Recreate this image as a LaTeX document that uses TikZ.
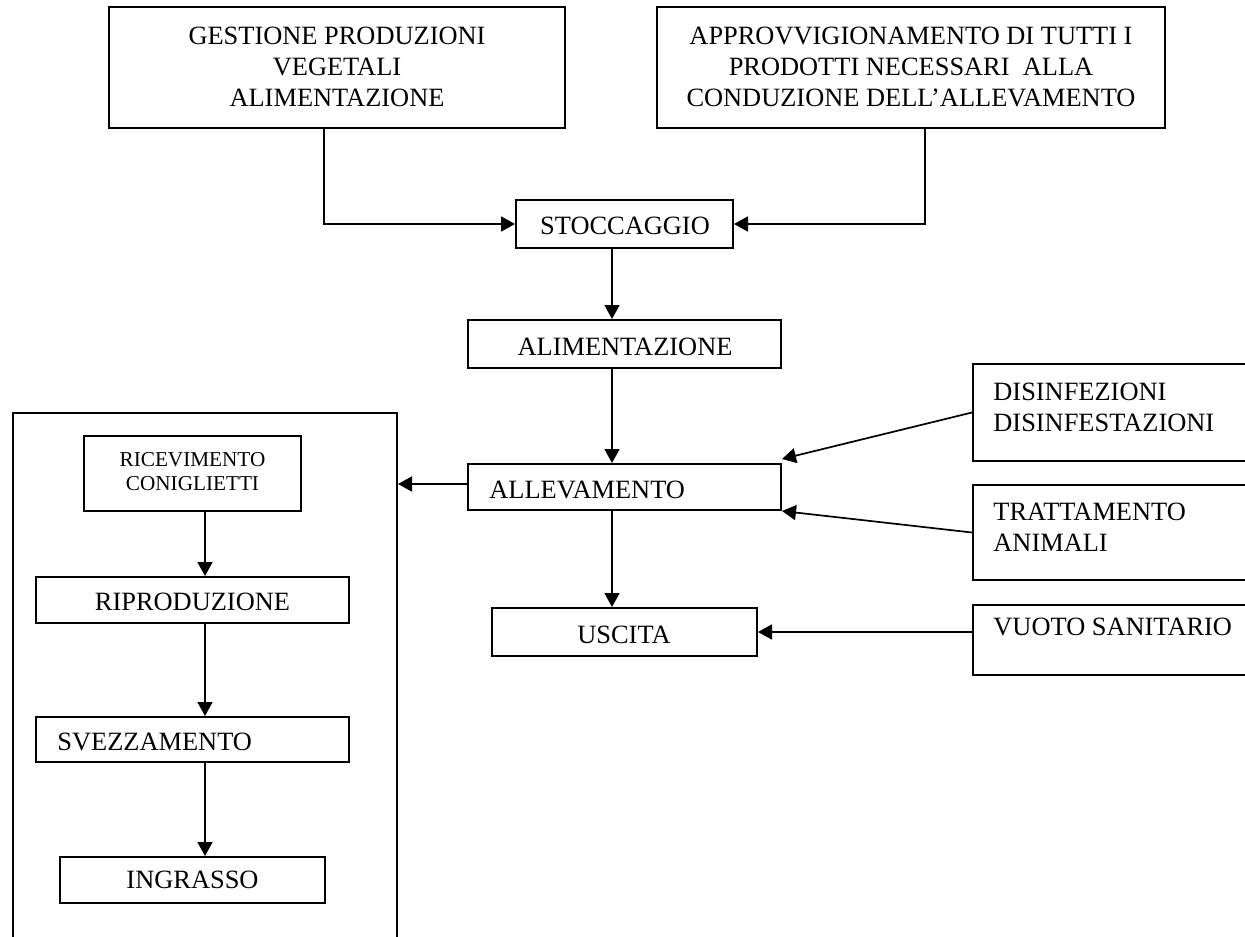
\documentclass[tikz,border=0pt]{standalone}
\usepackage{fontspec}
\setmainfont{Liberation Serif}
\usetikzlibrary{arrows.meta,calc}
\begin{document}
\begin{tikzpicture}[x=0.5pt,y=-0.5pt,
  box/.style={draw,line width=1pt,inner sep=0pt,anchor=center},
  txt/.style={inner sep=0pt,font=\fontsize{13.2}{15.5}\selectfont},
  caps/.style={txt,text height=8.65pt,text depth=0pt},
  smalltxt/.style={inner sep=0pt,font=\fontsize{10.6}{12}\selectfont},
  arr/.style={line width=0.85pt,-{Triangle[length=7pt,width=7.5pt]}}]
\useasboundingbox (0,0) rectangle (1245,936);
\clip (0,0) rectangle (1245,936);

% boxes
\node[box,minimum width=228pt,minimum height=60.5pt] (gest) at (337,67.5) {};
\node[box,minimum width=254pt,minimum height=60.5pt] (approv) at (911,67.5) {};
\node[box,minimum width=108.5pt,minimum height=24pt] (stocc) at (624.5,224) {};
\node[box,minimum width=156.5pt,minimum height=24pt] (alim) at (624.5,344) {};
\node[box,minimum width=156.5pt,minimum height=23pt] (allev) at (624.5,487) {};
\node[box,minimum width=132.5pt,minimum height=24pt] (uscita) at (624.5,632) {};
\node[box,minimum width=163.5pt,minimum height=48.5pt] (disinf) at (1136.5,412.5) {};
\node[box,minimum width=163.5pt,minimum height=47.5pt] (tratt) at (1136.5,532.5) {};
\node[box,minimum width=163.5pt,minimum height=35pt] (vuoto) at (1136.5,640) {};
\node[box,minimum width=192pt,minimum height=273.5pt] (fase) at (205,686.5) {};
\node[box,minimum width=108.5pt,minimum height=37.5pt] (ricev) at (192.5,473.5) {};
\node[box,minimum width=156.5pt,minimum height=23pt] (ripro) at (192.5,600) {};
\node[box,minimum width=156.5pt,minimum height=22.5pt] (svezz) at (192.5,739.5) {};
\node[box,minimum width=132.5pt,minimum height=23pt] (ingr) at (192.5,880) {};

% labels
\node[txt,align=center,anchor=north] (tgest) at (337,26.3)
  {GESTIONE PRODUZIONI\\VEGETALI\\ALIMENTAZIONE};
\node[txt,align=center,anchor=north] (tapprov) at (911,26.3)
  {APPROVVIGIONAMENTO DI TUTTI I\\PRODOTTI NECESSARI\ \ ALLA\\CONDUZIONE DELL’ALLEVAMENTO};
\node[caps] (tstocc) at (625,226) {STOCCAGGIO};
\node[caps] (talim) at (625,347) {ALIMENTAZIONE};
\node[caps,anchor=west] (tallev) at (489,490) {ALLEVAMENTO};
\node[caps] (tuscita) at (624,635) {USCITA};
\node[txt,align=left,anchor=north west] (tdisinf) at (993,383)
  {DISINFEZIONI\\DISINFESTAZIONI};
\node[txt,align=left,anchor=north west] (ttratt) at (993,503)
  {TRATTAMENTO\\ANIMALI};
\node[caps,anchor=west] (tvuoto) at (993,627) {VUOTO SANITARIO};
\node[smalltxt,align=center,anchor=north] (tricev) at (192.5,452)
  {RICEVIMENTO\\CONIGLIETTI};
\node[caps] (tripro) at (192.5,602) {RIPRODUZIONE};
\node[caps,anchor=west] (tsvezz) at (57,742) {SVEZZAMENTO};
\node[caps] (tingr) at (192.5,880) {INGRASSO};

% guide lines for the vertical connectors
\coordinate (gline) at (324,0);
\coordinate (aline) at (925,0);
\coordinate (spine) at (612,0);
\coordinate (lspine) at (205,0);

% connectors
\draw[arr] (gest.south -| gline) |- (stocc.west);
\draw[arr] (approv.south -| aline) |- (stocc.east);
\draw[arr] (stocc.south -| spine) -- (alim.north -| spine);
\draw[arr] (alim.south -| spine) -- (allev.north -| spine);
\draw[arr] (allev.south -| spine) -- (uscita.north -| spine);
\draw[arr] ($(allev.west)+(0,-3)$) -- ($(fase.east |- allev.west)+(0,-3)$);
\draw[arr] (disinf.west) -- ($(allev.north east)+(0,-4)$);
\draw[arr] (tratt.west) -- (allev.south east);
\draw[arr] (uscita.east -| vuoto.west) -- (uscita.east);
\draw[arr] (ricev.south -| lspine) -- (ripro.north -| lspine);
\draw[arr] (ripro.south -| lspine) -- (svezz.north -| lspine);
\draw[arr] (svezz.south -| lspine) -- (ingr.north -| lspine);
\end{tikzpicture}
\end{document}
